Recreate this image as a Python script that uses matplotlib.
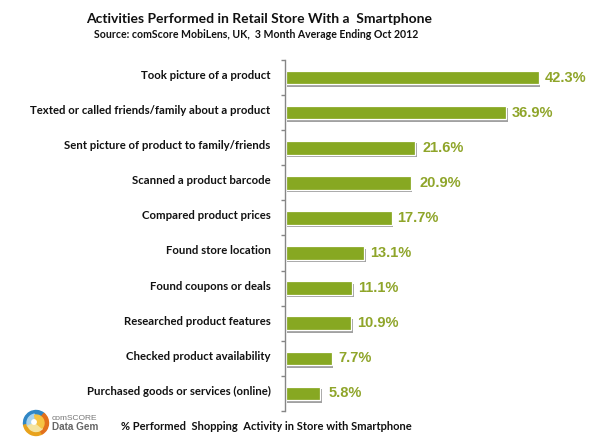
import matplotlib
matplotlib.use("Agg")
import matplotlib.pyplot as plt
import matplotlib.patheffects as pe
from matplotlib.patches import Wedge, Circle

# Data
activities = [
    "Took picture of a product",
    "Texted or called friends/family about a product",
    "Sent picture of product to family/friends",
    "Scanned a product barcode",
    "Compared product prices",
    "Found store location",
    "Found coupons or deals",
    "Researched product features",
    "Checked product availability",
    "Purchased goods or services (online)",
]
percent = [42.3, 36.9, 21.6, 20.9, 17.7, 13.1, 11.1, 10.9, 7.7, 5.8]
label_gap = [4.5, 4, 5.5, 6, 4, 4.5, 4.5, 4.5, 4.5, 6]

W, H = 615, 445
GREEN = "#87a822"
LABEL_GREEN = "#8fa52a"

plt.rcParams["font.family"] = ["Lato", "DejaVu Sans"]
fig = plt.figure(figsize=(W / 100, H / 100), dpi=100, facecolor="white")


def px_axes(x0, y0, x1, y1, **kw):
    return fig.add_axes([x0 / W, 1 - y1 / H, (x1 - x0) / W, (y1 - y0) / H], **kw)


ax = px_axes(284.5, 60, 600, 411)
pos = list(range(len(activities)))
shadow = [pe.SimplePatchShadow(offset=(1.2, -1.8), shadow_rgbFace="#555555", alpha=0.55), pe.Normal()]
bars = ax.barh(pos, percent, height=0.385, left=0.2, color=GREEN, edgecolor="white", linewidth=0.9)
for b in bars:
    b.set_path_effects(shadow)

for y, v, gap in zip(pos, percent, label_gap):
    ax.annotate(f"{v}%", (v + 0.2, y), xytext=(gap, 0), textcoords="offset points",
                va="center", ha="left", fontsize=10.5, fontweight="bold",
                color=LABEL_GREEN, family=["Liberation Sans"])

ax.set_xlim(0, (600 - 284.5) / 5.98)
ax.set_ylim(len(activities) - 0.5, -0.5)
ax.set_yticks([p - 0.5 for p in pos] + [len(pos) - 0.5])
ax.set_yticklabels([])
ax.set_xticks([])
ax.tick_params(axis="y", length=3, width=1, color="#868686")
for s in ["top", "right", "bottom"]:
    ax.spines[s].set_visible(False)
ax.spines["left"].set_color("#868686")
ax.spines["left"].set_linewidth(1)
ax.patch.set_alpha(0)

for y, name in zip(pos, activities):
    ax.annotate(name, (0, y), xytext=(-10, 1.5), textcoords="offset points",
                ha="right", va="center", fontsize=8.2, fontweight="bold", color="#111111")

fig.text(259 / W, 1 - 19 / H, "Activities Performed in Retail Store With a  Smartphone",
         ha="center", va="center", fontsize=10, fontweight="bold", color="#111111")
fig.text(256 / W, 1 - 35 / H, "Source: comScore MobiLens, UK,  3 Month Average Ending Oct 2012",
         ha="center", va="center", fontsize=7.6, fontweight="bold", color="#111111")
fig.text(121 / W, 1 - 427 / H, "% Performed  Shopping  Activity in Store with Smartphone",
         ha="left", va="center", fontsize=8, fontweight="bold", color="#111111")

# comScore logo
logo = px_axes(20, 407, 52, 439)
logo.set_xlim(-16, 16)
logo.set_ylim(-16, 16)
logo.axis("off")
logo.add_patch(Wedge((0, 0), 12.5, 50, 190, color="#2f86c5"))
logo.add_patch(Wedge((0, 0), 12.5, 190, 300, color="#e8a21c"))
logo.add_patch(Wedge((0, 0), 12.5, 300, 410, color="#e2701c"))
logo.add_patch(Wedge((0, 0), 9, 100, 200, color="#a9d3ee"))
logo.add_patch(Wedge((0, 0), 8.5, 200, 320, color="#f4e3a0"))
logo.add_patch(Wedge((0, 0), 8, 320, 460, color="#f6c343"))
logo.add_patch(Circle((-2, 1), 2.2, color="#ffffff"))

fig.text(52 / W, 1 - 418 / H, "comSCORE", ha="left", va="center", fontsize=6, color="#777777",
         family=["Liberation Sans"])
fig.text(52 / W, 1 - 427.5 / H, "Data Gem", ha="left", va="center", fontsize=7.2, fontweight="bold",
         color="#666666", family=["Liberation Sans"])

fig.savefig("out.png", dpi=100, facecolor="white")
